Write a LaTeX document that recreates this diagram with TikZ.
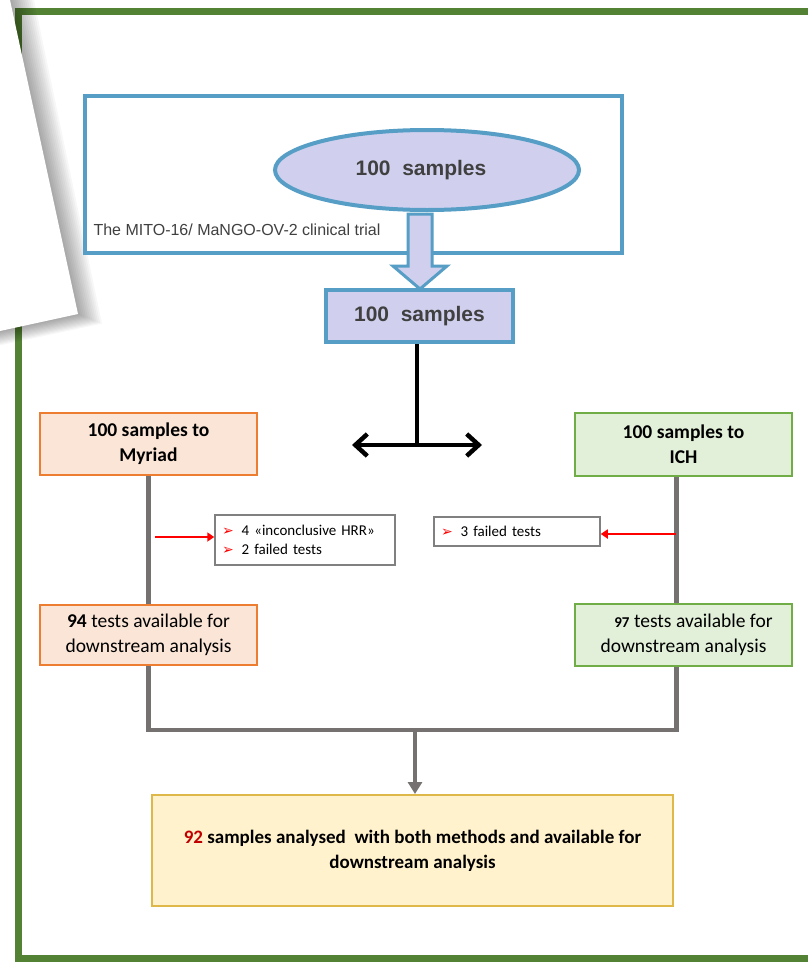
\documentclass[tikz,border=0pt]{standalone}
\usepackage{fontspec}
\setmainfont{Carlito}
\newfontfamily\arialfont{Liberation Sans}
\newfontfamily\symfont{DejaVu Sans}
\usetikzlibrary{arrows.meta}
\usetikzlibrary{shapes.geometric}

\definecolor{framegreen}{RGB}{84,130,53}
\definecolor{trialblue}{RGB}{86,158,197}
\definecolor{lavender}{RGB}{208,208,238}
\definecolor{peach}{RGB}{251,229,214}
\definecolor{peachedge}{RGB}{237,125,49}
\definecolor{mint}{RGB}{226,240,217}
\definecolor{mintedge}{RGB}{112,173,71}
\definecolor{cream}{RGB}{255,242,204}
\definecolor{creamedge}{RGB}{222,184,72}
\definecolor{flowgray}{RGB}{118,113,113}
\definecolor{darkred}{RGB}{192,0,0}
\definecolor{textgray}{RGB}{64,64,64}

\newcommand{\redbullet}{{\color{red}\symfont\fontsize{14}{14}\selectfont ➢}\hspace{8pt}}

\tikzset{
  lavbox/.style={draw=trialblue,line width=4pt,fill=lavender,text=textgray,
    font=\arialfont\bfseries\fontsize{21}{21}\selectfont},
  labbox/.style={line width=2pt,minimum width=217pt,align=center,
    font=\fontsize{19.5}{25}\selectfont},
  myriadbox/.style={labbox,draw=peachedge,fill=peach},
  ichbox/.style={labbox,draw=mintedge,fill=mint},
  failbox/.style={draw=gray,line width=1.5pt,fill=white,align=left,inner xsep=7pt,
    font=\fontsize{15}{19}\selectfont},
  flow/.style={flowgray,line width=4.5pt},
  redarrow/.style={red,line width=2.5pt,-{Triangle[length=7pt,width=9pt]}}
}

\begin{document}
\begin{tikzpicture}[x=1pt,y=-1pt]
\useasboundingbox (0,0) rectangle (808,966);
\fill[white] (0,0) rectangle (808,966);
\draw[framegreen,line width=7pt] (18,11.5) rectangle (840,958);
\foreach \d in {2,4,...,24}
  \fill[black,opacity=0.03] (0,0) -- (10+\d,0) -- (78+\d,314+0.4*\d) -- (0,331+0.6*\d) -- cycle;
\fill[white] (0,0) -- (10,0) -- (78,314) -- (0,331) -- cycle;

\node[draw=trialblue,line width=4pt,minimum width=537pt,minimum height=157pt] (trial) at (353.5,174.5) {};
\node[anchor=west,text=textgray,font=\arialfont\fontsize{16}{16}\selectfont] (triallabel) at (90,230) {The MITO-16/ MaNGO-OV-2 clinical trial};
\node[lavbox,ellipse,minimum width=304pt,minimum height=80pt,inner sep=0pt] (cohort) at (427,170) {100~~samples\hspace*{12pt}};
\node[lavbox,minimum width=187pt,minimum height=52pt,inner sep=0pt] (pool) at (419.5,316) {100~~samples};
\draw[trialblue,line width=3pt,fill=lavender,line join=miter] (408,214) -- (432,214) -- (432,266) -- (447,266) -- (420,289) -- (393,266) -- (408,266) -- cycle;

\coordinate (split) at (417,445);
\coordinate (splitL) at (352,445);
\coordinate (splitR) at (482,445);
\draw[black,line width=4.5pt] (pool.south -| split) -- (split);
\draw[black,line width=4.5pt,{Straight Barb[length=12pt,width=22pt]}-{Straight Barb[length=12pt,width=22pt]}] (splitL) -- (splitR);

\node[myriadbox,minimum height=62pt,font=\fontsize{19.5}{25}\selectfont\bfseries] (myriad) at (148.5,444) {100 samples to\\Myriad};
\node[ichbox,minimum height=63pt,font=\fontsize{19.5}{25}\selectfont\bfseries] (ich) at (683.5,444.5) {100 samples to\\ICH};
\node[myriadbox,minimum height=60pt] (myriad94) at (148.5,635) {\textbf{94} tests available for\\downstream analysis};
\node[ichbox,minimum height=62pt] (ich97) at (683.5,635) {\hspace*{20pt}{\fontsize{15}{15}\selectfont\textbf{97}} tests available for\\downstream analysis};

\node[failbox,text width=166pt,minimum height=50pt] (lfail) at (305,540) {\redbullet 4 «inconclusive HRR»\\\redbullet 2 failed tests};
\node[failbox,text width=152pt,minimum height=29pt] (rfail) at (517,531.5) {\redbullet 3 failed tests};

\draw[flow] (myriad.south) -- (myriad94.north);
\draw[flow] ([xshift=-7pt]ich.south) -- ([xshift=-7pt]ich97.north);
\coordinate (lstart) at (155,537);
\coordinate (rstart) at (676,534);
\draw[redarrow] (lstart) -- (lstart -| lfail.west);
\draw[redarrow] (rstart) -- (rstart -| rfail.east);

\node[draw=creamedge,line width=2pt,fill=cream,minimum width=521pt,minimum height=111pt,align=center,font=\fontsize{19}{25}\selectfont\bfseries] (final) at (412.5,850.5) {{\color{darkred}92} samples analysed~~with both methods and available for\\downstream analysis};

\coordinate (merge) at (415,730);
\draw[flow,line join=miter] (myriad94.south) |- (merge) -| ([xshift=-7pt]ich97.south);
\draw[flow,-{Triangle[length=12pt,width=14pt]}] (merge) -- (merge |- final.north);
\end{tikzpicture}
\end{document}
